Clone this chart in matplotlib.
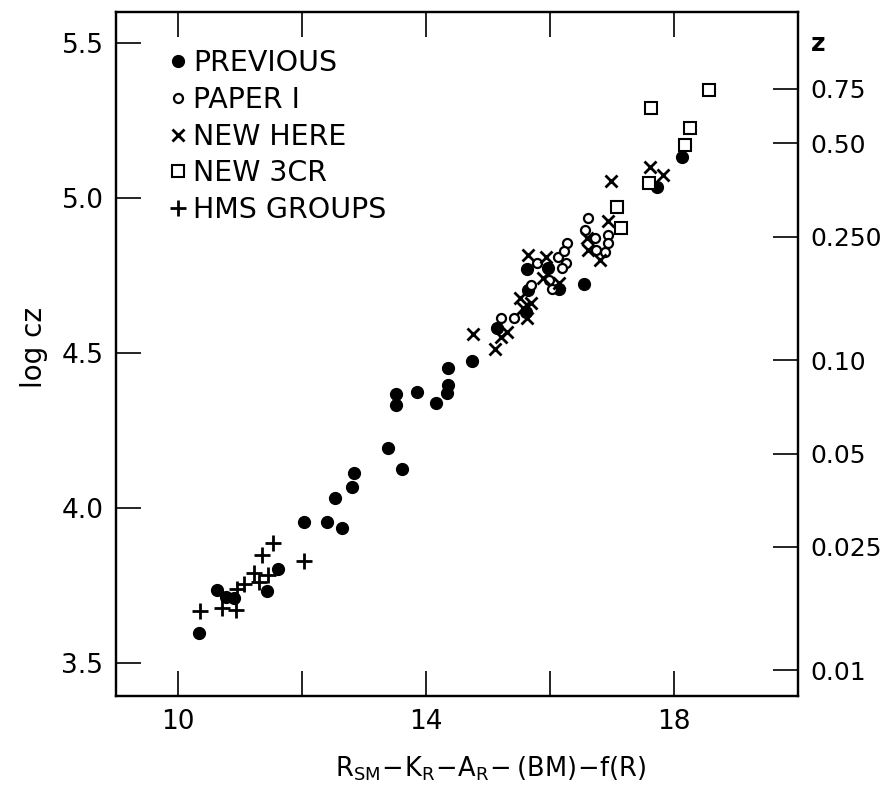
import numpy as np
import matplotlib
matplotlib.use("Agg")
import matplotlib.pyplot as plt

plt.rcParams["font.family"] = ["DejaVu Sans"]

# previous (filled dots)
prev_x = [10.34, 10.63, 10.78, 10.91, 11.44, 11.61, 12.04, 12.41, 12.64, 12.54,
          12.81, 12.84, 13.39, 13.62, 13.52, 13.52, 13.85, 14.16, 14.34, 14.35,
          14.36, 14.74, 15.15, 15.62, 15.65, 15.63, 15.97, 16.15, 16.55, 17.73,
          18.13]
prev_y = [3.596, 3.735, 3.714, 3.709, 3.733, 3.805, 3.956, 3.956, 3.936, 4.031,
          4.067, 4.112, 4.195, 4.125, 4.332, 4.368, 4.373, 4.338, 4.372, 4.397,
          4.453, 4.474, 4.580, 4.633, 4.703, 4.771, 4.773, 4.705, 4.722, 5.035,
          5.133]

# paper I (open circles)
pap_x = [15.21, 15.42, 15.69, 15.79, 15.98, 16.04, 16.13, 16.28, 16.23, 16.26,
         16.20, 16.61, 16.56, 16.72, 16.75, 16.94, 16.94, 16.88]
pap_y = [4.612, 4.612, 4.719, 4.789, 4.735, 4.705, 4.811, 4.856, 4.830, 4.791,
         4.773, 4.935, 4.897, 4.870, 4.832, 4.881, 4.854, 4.827]

# new here (crosses)
new_x = [14.76, 15.11, 15.21, 15.30, 15.63, 15.52, 15.70, 15.56, 15.65, 15.93,
         15.89, 16.15, 16.59, 16.61, 16.80, 16.94, 16.98, 17.61, 17.83]
new_y = [4.561, 4.512, 4.553, 4.569, 4.612, 4.678, 4.660, 4.644, 4.816, 4.809,
         4.741, 4.727, 4.870, 4.832, 4.800, 4.927, 5.056, 5.099, 5.074]

# new 3CR (open squares)
cr_x = [18.57, 17.63, 18.26, 18.17, 17.59, 17.08, 17.15]
cr_y = [5.348, 5.289, 5.227, 5.171, 5.049, 4.970, 4.902]

# HMS groups (plus)
hms_x = [10.36, 10.71, 10.93, 10.95, 11.07, 11.23, 11.35, 11.53, 11.46, 11.31,
         12.03]
hms_y = [3.668, 3.679, 3.671, 3.739, 3.754, 3.791, 3.848, 3.886, 3.784, 3.762,
         3.829]

z_ticks = [0.01, 0.025, 0.05, 0.10, 0.250, 0.50, 0.75]
z_labels = ["0.01", "0.025", "0.05", "0.10", "0.250", "0.50", "0.75"]

fig = plt.figure(figsize=(8.92, 7.87), dpi=100)
ax = fig.add_axes([0.130, 0.1156, 0.7646, 0.8692])

ax.plot(prev_x, prev_y, "o", color="black", ms=8.5, label="PREVIOUS")
ax.plot(pap_x, pap_y, "o", mfc="white", mec="black", ms=6.5, mew=1.6, label="PAPER I")
ax.plot(new_x, new_y, "x", color="black", ms=8, mew=2, label="NEW HERE")
ax.plot(cr_x, cr_y, "s", mfc="white", mec="black", ms=8, mew=1.5, label="NEW 3CR")
ax.plot(hms_x, hms_y, "+", color="black", ms=11, mew=2, label="HMS GROUPS")

ax.set_xlim(9, 20)
ax.set_ylim(3.394, 5.6)
ax.set_xticks([10, 12, 14, 16, 18])
ax.set_xticklabels(["10", "", "14", "", "18"])
ax.set_yticks([3.5, 4.0, 4.5, 5.0, 5.5])
ax.tick_params(direction="in", length=18, width=1.2, labelsize=19, pad=9,
               top=True, right=False)
for s in ax.spines.values():
    s.set_linewidth(1.6)

ax.set_xlabel(r"$\mathregular{R_{SM}\!-\!K_R\!-\!A_R\!-(BM)\!-\!f(R)}$", fontsize=18.5)
ax.xaxis.set_label_coords(0.55, -0.085)
ax.set_ylabel("log cz", fontsize=20)
ax.yaxis.set_label_coords(-0.099, 0.51)

# redshift scale on the right
ax2 = ax.twinx()
ax2.set_ylim(ax.get_ylim())
ax2.set_yticks(np.log10(3e5 * np.array(z_ticks)))
ax2.set_yticklabels(z_labels)
ax2.tick_params(direction="in", length=18, width=1.2, labelsize=18, pad=9)
for s in ax2.spines.values():
    s.set_linewidth(1.6)
ax2.text(1.03, 0.953, "z", transform=ax.transAxes, fontsize=18,
         fontweight="bold", ha="center", va="center")

leg = ax.legend(loc="upper left", bbox_to_anchor=(0.08, 0.946), frameon=False,
                fontsize=20.5, handlelength=0.5, handletextpad=0.3,
                labelspacing=0.31, borderpad=0, borderaxespad=0, numpoints=1)

fig.savefig("out.png", dpi=100)
